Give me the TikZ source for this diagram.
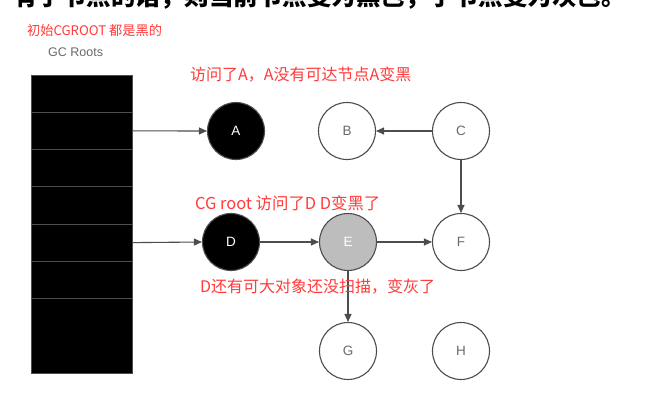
\documentclass[tikz,border=0pt]{standalone}
\usepackage{fontspec}
\usepackage{tikz}
\usetikzlibrary{arrows.meta,positioning}
\setmainfont{Liberation Sans}
\newfontfamily\cjk{Noto Sans CJK SC}
\definecolor{notered}{HTML}{FF3B3B}
\definecolor{edgegray}{HTML}{4D4D4D}
\definecolor{scangray}{HTML}{BDBDBD}
\definecolor{textgray}{HTML}{6A6A6A}
\tikzset{
  obj/.style={circle,draw=edgegray,line width=1.1pt,minimum size=57pt,inner sep=0pt,
    font=\fontsize{13.5}{13.5}\selectfont,text=textgray},
  blackobj/.style={obj,fill=black,text=white},
  grayobj/.style={obj,fill=scangray,text=white},
  rootcell/.style={draw=edgegray,fill=black,line width=0.9pt,minimum width=101pt,
    minimum height=37.25pt,inner sep=0pt},
  ref/.style={-{Triangle[length=8pt,width=7pt]},draw=edgegray,line width=1.1pt},
  note/.style={font=\cjk\fontsize{16}{16}\selectfont,text=notered,inner sep=0pt,anchor=west}
}
\begin{document}
\begin{tikzpicture}[x=1pt,y=-1pt]
  \useasboundingbox[fill=white] (0,0) rectangle (654,409);
  % heading line cut off by the top edge
  \node[anchor=base west,inner sep=0pt,font=\cjk\bfseries\fontsize{24.5}{24.5}\selectfont] (head) at (13,6)
    {有子节点的话，则当前节点变为黑色，子节点变为灰色。};
  \node[note,font=\cjk\fontsize{13.2}{13.2}\selectfont] (initnote) at (27,30) {初始CGROOT 都是黑的};
  \node[anchor=west,inner sep=0pt,text=textgray,font=\fontsize{12.5}{12.5}\selectfont] (gcroots) at (48,52) {GC Roots};
  % GC roots stack
  \foreach \i in {1,...,6}
    \node[rootcell] (r\i) at (81.5,{75+37.25*(\i-0.5)}) {};
  \node[rootcell,minimum height=74.5pt] (r7) at (81.5,335.75) {};
  % objects
  \node[blackobj] (A) at (236,131) {A};
  \node[obj] (B) at (347,131) {B};
  \node[obj] (C) at (461,131) {C};
  \node[blackobj] (D) at (231,242) {D};
  \node[grayobj] (E) at (348,242) {E};
  \node[obj] (F) at (461,242) {F};
  \node[obj] (G) at (348,351) {G};
  \node[obj] (H) at (461,351) {H};
  % references
  \draw[ref] (r2.east) -- (A.west);
  \draw[ref] (r5.east) -- (D.west);
  \draw[ref] (C) -- (B);
  \draw[ref] (C) -- (F);
  \draw[ref] (D) -- (E);
  \draw[ref] (E) -- (F);
  \draw[ref] (E) -- (G);
  % notes
  \node[note] (anote) at (190,75) {访问了A，A没有可达节点A变黑};
  \node[note,font=\cjk\fontsize{16.4}{16.4}\selectfont] (dnote) at (195,203) {CG root 访问了D D变黑了};
  \node[note] (enote) at (200,287) {D还有可大对象还没扫描，变灰了};
\end{tikzpicture}
\end{document}
